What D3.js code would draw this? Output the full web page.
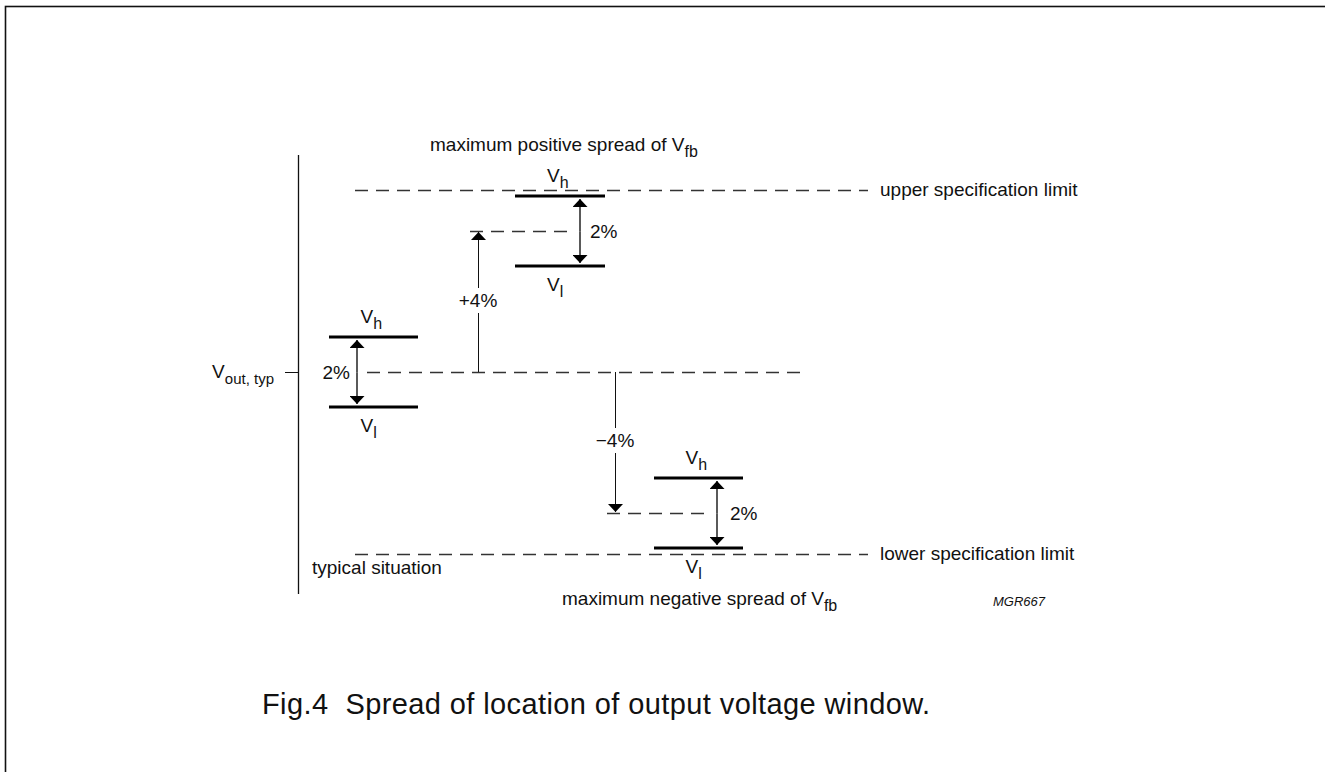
<!DOCTYPE html>
<html>
<head>
<meta charset="utf-8">
<script src="https://cdnjs.cloudflare.com/ajax/libs/d3/7.8.5/d3.min.js"></script>
<style>
  body { margin: 0; background: #fff; }
  text { font-family: "Liberation Sans", Arial, sans-serif; fill: #111; }
</style>
</head>
<body>
<div id="chart"></div>
<script>
// data: output voltage window levels, in percent of Vout,typ
var windowNames = ["typical", "positive", "negative"];
var windowCenters = [0, 4, -4];
var windowSpread = 1;          // +/- 1 %  -> 2% window
var windowLabels = ["2%", "2%", "2%"];
var shiftLabels = ["+4%", "\u22124%"];
var specLimits = [5.15, -5.15];
var specNames = ["upper specification limit", "lower specification limit"];

var width = 1325, height = 772;
var fs = 19, subFs = 16;

var svg = d3.select("#chart").append("svg")
    .attr("width", width)
    .attr("height", height);

// frame (open to the right and bottom edges)
svg.append("rect")
    .attr("x", 5.5).attr("y", 6.5)
    .attr("width", width + 10).attr("height", height + 10)
    .attr("fill", "none").attr("stroke", "#111").attr("stroke-width", 1.6);

// arrow head marker
svg.append("defs").append("marker")
    .attr("id", "head")
    .attr("viewBox", "0 0 8 15")
    .attr("refX", 8).attr("refY", 7.5)
    .attr("markerWidth", 8).attr("markerHeight", 15)
    .attr("markerUnits", "userSpaceOnUse")
    .attr("orient", "auto")
  .append("path")
    .attr("d", "M0,0L8,7.5L0,15Z")
    .attr("fill", "#000");

// vertical percent scale (schematic)
var y = d3.scaleLinear().domain([0, 4]).range([372, 231]);

// horizontal layout of each window
var layout = {
  typical:  {x1: 329, x2: 418, arrow: 357, label: 350, anchor: "end",   dash: [367, 808]},
  positive: {x1: 515, x2: 605, arrow: 580, label: 590, anchor: "start", dash: [470, 572]},
  negative: {x1: 654, x2: 743, arrow: 717, label: 730, anchor: "start", dash: [607, 705]}
};
var shiftX = [478, 615];
var shiftLabelY = [307, 447];

function label(x, yy, main, sub, anchor, size, sSize) {
  var t = svg.append("text")
      .attr("x", x).attr("y", yy)
      .attr("text-anchor", anchor || "start")
      .style("font-size", (size || fs) + "px")
      .attr("xml:space", "preserve")
      .style("white-space", "pre");
  t.append("tspan").text(main);
  if (sub) t.append("tspan").attr("dy", 6).style("font-size", (sSize || subFs) + "px").text(sub);
  return t;
}

// vertical axis with Vout,typ tick
svg.append("line")
    .attr("x1", 298.5).attr("x2", 298.5)
    .attr("y1", 155).attr("y2", 594)
    .attr("stroke", "#111").attr("stroke-width", 1.3);
svg.append("line")
    .attr("x1", 285).attr("x2", 298)
    .attr("y1", y(0) + 0.5).attr("y2", y(0) + 0.5)
    .attr("stroke", "#111").attr("stroke-width", 1);
label(274, 378, "V", "out, typ", "end", fs, 15);

var dashStyle = function(sel) {
  sel.attr("stroke", "#333").attr("stroke-width", 1.3).attr("stroke-dasharray", "13,8");
};

// specification limits
specLimits.forEach(function(v, i) {
  var yy = Math.round(y(v)) + 0.5;
  svg.append("line")
      .attr("x1", 355).attr("x2", 868)
      .attr("y1", yy).attr("y2", yy)
      .call(dashStyle);
  label(880, yy + 5.5, specNames[i]);
});

// the three windows
windowNames.forEach(function(name, i) {
  var L = layout[name], c = windowCenters[i];
  var yh = Math.round(y(c + windowSpread)), yl = Math.round(y(c - windowSpread));
  var yc = Math.round(y(c)) + 0.5;

  svg.append("line")
      .attr("x1", L.dash[0]).attr("x2", L.dash[1])
      .attr("y1", yc).attr("y2", yc)
      .call(dashStyle);

  [yh, yl].forEach(function(yy) {
    svg.append("line")
        .attr("x1", L.x1).attr("x2", L.x2)
        .attr("y1", yy).attr("y2", yy)
        .attr("stroke", "#000").attr("stroke-width", 3);
  });

  // double arrow
  [yh + 3, yl - 3].forEach(function(tip) {
    svg.append("line")
        .attr("x1", L.arrow).attr("x2", L.arrow)
        .attr("y1", yc).attr("y2", tip)
        .attr("stroke", "#000").attr("stroke-width", 1.3)
        .attr("marker-end", "url(#head)");
  });

  label(L.label, yc + 6.5, windowLabels[i], null, L.anchor);

  var mid = (L.x1 + L.x2) / 2;
  label(mid - 13, yh - 14, "V", "h");
  label(mid - 13, yl + 25, "V", "l");
});

// shift arrows from Vout,typ to the shifted centres
[1, 2].forEach(function(i, k) {
  var c = windowCenters[i];
  var dir = c > 0 ? 1 : -1;
  svg.append("line")
      .attr("x1", shiftX[k] + 0.5).attr("x2", shiftX[k] + 0.5)
      .attr("y1", y(0)).attr("y2", Math.round(y(c)) + dir)
      .attr("stroke", "#111").attr("stroke-width", 1)
      .attr("marker-end", "url(#head)");
  svg.append("rect")
      .attr("x", shiftX[k] - 20).attr("y", shiftLabelY[k] - 19)
      .attr("width", 40).attr("height", 25)
      .attr("fill", "#fff");
  label(shiftX[k], shiftLabelY[k], shiftLabels[k], null, "middle");
});

// annotations
label(430, 151, "maximum positive spread of V", "fb");
label(562, 605, "maximum negative spread of V", "fb");
label(312, 574, "typical situation");

svg.append("text")
    .attr("x", 993).attr("y", 606)
    .style("font-size", "13px").style("font-style", "italic")
    .text("MGR667");

label(262, 714, "Fig.4  Spread of location of output voltage window.", null, "start", 29)
    .style("letter-spacing", "0.4px");
</script>
</body>
</html>
